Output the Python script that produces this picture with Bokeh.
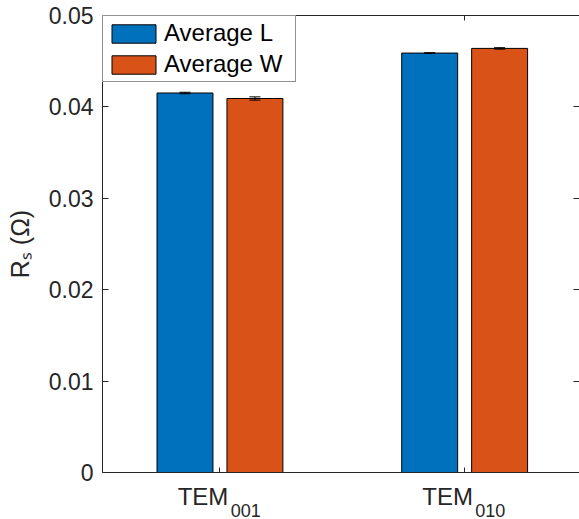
import numpy as np
from bokeh.plotting import figure
from bokeh.models import (Range1d, FixedTicker, LinearAxis, Whisker,
                          TeeHead, ColumnDataSource)
from bokeh.embed import file_html
from bokeh.resources import INLINE

# ---------------- data ----------------
mode_names = ["TEM", "TEM"]
mode_indices = ["001", "010"]
series_names = ["Average L", "Average W"]
avg_L = [0.04152, 0.04589]
avg_L_err = [0.00008, 0.00004]
avg_W = [0.04092, 0.04640]
avg_W_err = [0.00018, 0.00008]
y_ticks = [0, 0.01, 0.02, 0.03, 0.04, 0.05]
y_tick_labels = ["0", "0.01", "0.02", "0.03", "0.04", "0.05"]
y_label = "Rₛ (Ω)"

# ---------------- layout ----------------
W, H = 579, 519
LEFT, TOP, BOTTOM = 102, 15, 47
X0 = 0.52
PX_PER_X = 244.7
X1 = X0 + (W - LEFT) / PX_PER_X
Y0, Y1 = 0.0, 0.05

C = "#262626"
FONT = "Liberation Sans"
BLUE = "#0072BD"
ORANGE = "#D95319"

group_x = np.arange(1, len(mode_names) + 1)
OFF = 0.1429
BW = 0.2286

p = figure(width=W, height=H, output_backend="svg", toolbar_location=None,
           x_range=Range1d(X0, X1), y_range=Range1d(Y0, Y1),
           min_border_left=LEFT, min_border_right=0, min_border_top=TOP,
           min_border_bottom=BOTTOM, background_fill_color="white",
           border_fill_color="white")
p.outline_line_color = None
p.xgrid.visible = False
p.ygrid.visible = False

# bars
src_L = ColumnDataSource(dict(x=group_x - OFF, top=avg_L,
                              upper=np.array(avg_L) + np.array(avg_L_err),
                              lower=np.array(avg_L) - np.array(avg_L_err)))
src_W = ColumnDataSource(dict(x=group_x + OFF, top=avg_W,
                              upper=np.array(avg_W) + np.array(avg_W_err),
                              lower=np.array(avg_W) - np.array(avg_W_err)))
p.vbar(x="x", top="top", width=BW, source=src_L, fill_color=BLUE,
       line_color="black", line_width=1, legend_label=series_names[0])
p.vbar(x="x", top="top", width=BW, source=src_W, fill_color=ORANGE,
       line_color="black", line_width=1, legend_label=series_names[1])

for src in (src_L, src_W):
    wk = Whisker(source=src, base="x", upper="upper", lower="lower",
                 line_color="black", line_width=1, level="annotation",
                 upper_head=TeeHead(size=11, line_color="black", line_width=1),
                 lower_head=TeeHead(size=11, line_color="black", line_width=1))
    p.add_layout(wk)

# main x axis: ticks only
xa = p.xaxis[0]
xa.ticker = FixedTicker(ticks=list(group_x))
xa.major_label_overrides = {int(g): "" for g in group_x}
xa.major_label_text_font_size = "0px"
xa.major_label_standoff = 0
xa.major_tick_in = 5
xa.major_tick_out = 0
xa.minor_tick_line_color = None
xa.axis_line_color = C
xa.major_tick_line_color = C

# tick label main part "TEM" (centred left of the group tick)
main_pos = [float(g) - 17.0 / PX_PER_X for g in group_x]
ax_main = LinearAxis(ticker=FixedTicker(ticks=main_pos),
                     major_label_overrides={t: s for t, s in zip(main_pos, mode_names)},
                     major_tick_line_color=None, minor_tick_line_color=None,
                     axis_line_color=None, major_tick_in=0, major_tick_out=0,
                     major_label_standoff=10, major_label_text_font=FONT,
                     major_label_text_font_size="24px", major_label_text_color=C)
p.add_layout(ax_main, "below")

# subscript part "001"/"010"
sub_pos = [float(g) + 25.7 / PX_PER_X for g in group_x]
ax_sub = LinearAxis(ticker=FixedTicker(ticks=sub_pos),
                    major_label_overrides={t: s for t, s in zip(sub_pos, mode_indices)},
                    major_tick_line_color=None, minor_tick_line_color=None,
                    axis_line_color=None, major_tick_in=0, major_tick_out=0,
                    major_label_standoff=-9, major_label_text_font=FONT,
                    major_label_text_font_size="18px", major_label_text_color=C)
p.add_layout(ax_sub, "below")

ya = p.yaxis[0]
ya.ticker = FixedTicker(ticks=y_ticks)
ya.major_label_overrides = {t: l for t, l in zip(y_ticks, y_tick_labels)}
ya.major_tick_in = 6
ya.major_tick_out = 0
ya.minor_tick_line_color = None
ya.axis_line_color = C
ya.major_tick_line_color = C
ya.major_label_text_font = FONT
ya.major_label_text_font_size = "23px"
ya.major_label_text_color = C
ya.major_label_standoff = 9
ya.axis_label = y_label
ya.axis_label_text_font = FONT
ya.axis_label_text_font_size = "25px"
ya.axis_label_text_font_style = "normal"
ya.axis_label_text_color = C
ya.axis_label_standoff = 12

top_ax = LinearAxis(ticker=FixedTicker(ticks=list(group_x)),
                    major_label_overrides={int(g): "" for g in group_x},
                    major_tick_in=5, major_tick_out=0, major_label_standoff=0,
                    minor_tick_line_color=None, axis_line_color=C,
                    major_tick_line_color=C, major_label_text_font_size="0px")
p.add_layout(top_ax, "above")
right_ax = LinearAxis(ticker=FixedTicker(ticks=y_ticks),
                      major_label_overrides={t: "" for t in y_ticks},
                      major_tick_in=6, major_tick_out=0, major_label_standoff=0,
                      minor_tick_line_color=None, axis_line_color=None,
                      major_tick_line_color=C, major_label_text_font_size="0px")
p.add_layout(right_ax, "right")

# legend
lg = p.legend[0]
lg.location = "top_left"
lg.margin = 0
lg.padding = 3
lg.spacing = 3
lg.glyph_width = 55
lg.glyph_height = 23
lg.label_standoff = 3
lg.label_width = 128
lg.label_text_font = FONT
lg.label_text_font_size = "24px"
lg.label_text_color = "black"
lg.border_line_color = C
lg.border_line_width = 1
lg.background_fill_color = "white"
lg.background_fill_alpha = 1.0

open("out.html", "w").write(file_html(p, INLINE))
